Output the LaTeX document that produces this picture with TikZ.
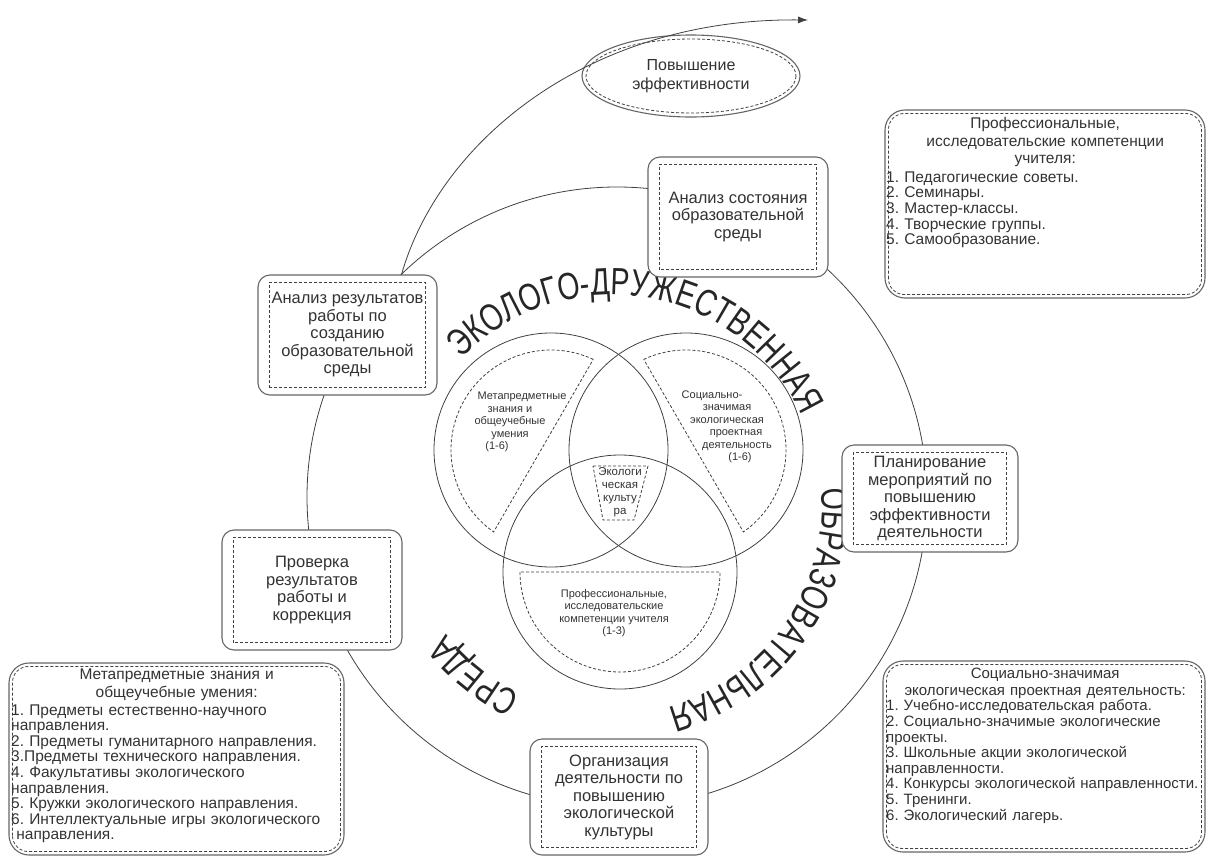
\documentclass[tikz,border=0pt]{standalone}
\usepackage{fontspec}
\setmainfont{Liberation Sans}
\newfontfamily\ringfamily[FakeStretch=0.75]{Liberation Sans}
\usetikzlibrary{shapes.geometric,arrows.meta,decorations.text}
\setlength{\parindent}{0pt}
\frenchspacing
\newcommand{\boxfont}{\fontsize{16.5}{17.5}\selectfont}
\newcommand{\listfont}{\fontsize{15.5}{15.6}\selectfont}
\newcommand{\vennfont}{\fontsize{11}{12.5}\selectfont}
\newcommand{\ringfont}{\ringfamily\fontsize{38}{38}\selectfont}

\begin{document}
\begin{tikzpicture}
    [
    x=1pt, y=-1pt
    , line/.style = {draw=black!75, line width=0.8pt}
    , dashline/.style = {draw=black!75, line width=0.8pt, dash pattern=on 3pt off 2pt}
    , stage/.style = {draw=black!60, line width=1.1pt, rounded corners=12pt, fill=white, align=center, inner sep=0pt, font=\boxfont, text=black!80}
    , listbox/.style = {draw=black!60, line width=1.1pt, rounded corners=20pt, fill=white, inner sep=0pt}
    , listtext/.style = {font=\listfont, text=black!80, inner sep=0pt, align=left, text width=#1, anchor=north west}
    , venn/.style = {font=\vennfont, text=black!80, align=center, inner sep=0pt}
    , ringtext/.style = {decorate, decoration={text along path, text align=center, text color=black!85, text={|\ringfont|#1}}}
    ]
\useasboundingbox (0,0) rectangle (1208,857);

% outer cycle
\coordinate (cyc) at (617,497);
\draw[line] (cyc) circle [radius=310];

% three circles
\coordinate (meta) at (551,450);
\coordinate (proj) at (686,450);
\coordinate (prof) at (620,572);
\foreach \c in {meta,proj,prof}
    \draw[line] (\c) circle [radius=117];

\draw[dashline] (meta) ++(-65:100) arc [start angle=-65, end angle=-235, radius=100] -- cycle;
\draw[dashline] (proj) ++(-115:100) arc [start angle=-115, end angle=55, radius=100] -- cycle;
\draw[dashline] (prof) ++(180:100) arc [start angle=180, end angle=0, radius=100] -- cycle;
\draw[dashline] (593,466) -- (648,466) -- (634,520) -- (603,520) -- cycle;

\node[venn] (metalabel) at (510,422) {\hspace*{24pt}Метапредметные\\знания и\hspace*{6pt}\\общеучебные\hspace*{6pt}\\умения\hspace*{16pt}\\(1-6)\hspace*{26pt}};
\node[venn] (projlabel) at (727,427) {Социально-\hspace*{30pt}\\значимая\hspace*{4pt}\\экологическая\hspace*{2pt}\\\hspace*{18pt}проектная\\\hspace*{20pt}деятельность\\\hspace*{26pt}(1-6)};
\node[venn] (proflabel) at (614,613) {Профессиональные,\\исследовательские\\компетенции учителя\\(1-3)};
\node[venn, font=\fontsize{11.5}{13}\selectfont] (culture) at (620,492) {Экологи\\ческая\\культу\\ра};

% curved title
\coordinate (arcc) at (612,505);
\path[ringtext={ЭКОЛОГО-ДРУЖЕСТВЕННАЯ}] (arcc) ++(-148:210) arc [start angle=-148, end angle=-13, radius=210];
\path[ringtext={ОБРАЗОВАТЕЛЬНАЯ}] (arcc) ++(-12:210) arc [start angle=-12, end angle=82, radius=210];
\path[ringtext={СРЕДА}] (arcc) ++(108:210) arc [start angle=108, end angle=150, radius=210];

% stages on the cycle
\node[stage, minimum width=179pt, minimum height=120pt] (res) at (347.5,335) {Анализ результатов\\работы по\\созданию\\образовательной\\среды};
\node[stage, minimum width=180pt, minimum height=120pt] (state) at (738,217) {Анализ состояния\\образовательной\\среды};
\node[stage, minimum width=176pt, minimum height=107pt] (plan) at (930,498.5) {Планирование\\мероприятий по\\повышению\\эффективности\\деятельности};
\node[stage, minimum width=178pt, minimum height=116pt] (org) at (619,797) {Организация\\деятельности по\\повышению\\экологической\\культуры};
\node[stage, minimum width=180pt, minimum height=120pt] (check) at (312,590) {Проверка\\результатов\\работы и\\коррекция};
\foreach \n in {res,state,plan,org,check}
    \draw[dashline] ([shift={(12pt,8pt)}]\n.south west) rectangle ([shift={(-12pt,-8pt)}]\n.north east);

\node[draw=black!60, line width=1.1pt, ellipse, fill=white, minimum width=218pt, minimum height=82pt, inner sep=0pt, align=center, font=\fontsize{16}{19}\selectfont, text=black!80] (eff) at (691,76) {Повышение\\эффективности};
\draw[dashline] (eff.center) ellipse [x radius=105, y radius=37];

\coordinate (effend) at (808,20);
\draw[line, -{Latex[length=10pt, width=7pt]}] ([xshift=54pt]res.north) .. controls (440,140) and (590,18) .. (effend);

% lists
\node[listbox, minimum width=320pt, minimum height=188pt] (profbox) at (1045,204) {};
\node[listbox, minimum width=335pt, minimum height=192pt] (metabox) at (176.5,759) {};
\node[listbox, minimum width=322pt, minimum height=191pt] (projbox) at (1044,756.5) {};
\foreach \n in {profbox,metabox,projbox}
    \draw[dashline, rounded corners=16pt] ([shift={(4pt,4pt)}]\n.south west) rectangle ([shift={(-4pt,-4pt)}]\n.north east);

\node[listtext=318pt] (proflist) at (886,117) {{\centering Профессиональные,\\[2pt]исследовательские компетенции\\[2pt]учителя:\par}\vspace{3pt}1. Педагогические советы.\\2. Семинары.\\3. Мастер-классы.\\4. Творческие группы.\\5. Самообразование.};
\node[listtext=331pt] (metalist) at (11,669) {{\centering Метапредметные знания и\\[2pt]общеучебные умения:\par}\vspace{2pt}1. Предметы естественно-научного\\направления.\\2. Предметы гуманитарного направления.\\3.Предметы технического направления.\\4. Факультативы экологического\\направления.\\5. Кружки экологического направления.\\6. Интеллектуальные игры экологического\\\ направления.};
\node[listtext=318pt, font=\fontsize{15}{15.6}\selectfont] (projlist) at (886,668) {{\centering Социально-значимая\\[1pt]экологическая проектная деятельность:\par}1. Учебно-исследовательская работа.\\2. Социально-значимые экологические\\проекты.\\3. Школьные акции экологической\\направленности.\\4. Конкурсы экологической направленности.\\5. Тренинги.\\6. Экологический лагерь.};
\end{tikzpicture}
\end{document}
